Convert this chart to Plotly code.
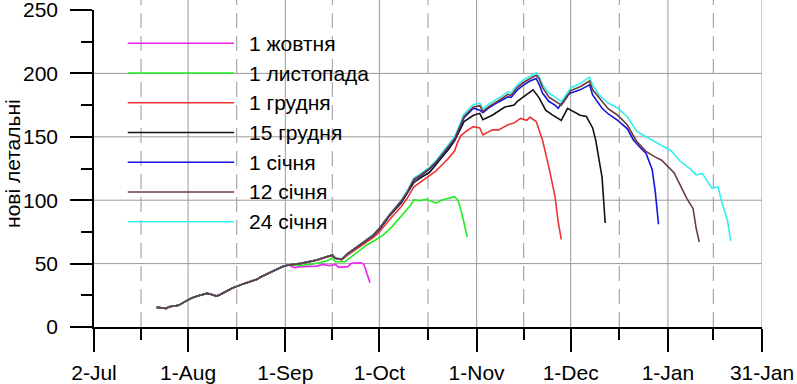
import plotly.graph_objects as go

# ---------------- axis ticks ----------------
tick_dates = ['2020-07-02', '2020-08-01', '2020-09-01', '2020-10-01',
              '2020-11-01', '2020-12-01', '2021-01-01', '2021-01-31']
tick_labels = ['2-Jul', '1-Aug', '1-Sep', '1-Oct', '1-Nov', '1-Dec', '1-Jan', '31-Jan']
minor_dates = ['2020-07-17', '2020-08-16 12:00', '2020-09-16', '2020-10-16 12:00',
               '2020-11-16', '2020-12-16 12:00', '2021-01-15 12:00']
y_ticks = [0, 50, 100, 150, 200, 250]

# ---------------- shared history (identical in every version) ----------------
hist_dates = ['2020-07-22', '2020-07-24', '2020-07-25', '2020-07-26', '2020-07-29', '2020-07-31',
              '2020-08-02', '2020-08-04', '2020-08-05', '2020-08-07', '2020-08-08', '2020-08-10',
              '2020-08-11', '2020-08-13', '2020-08-15', '2020-08-19', '2020-08-21', '2020-08-23',
              '2020-08-24', '2020-08-27', '2020-08-31', '2020-09-02']
hist_values = [15.5, 15.2, 14.7, 16, 17.1, 20,
               22.6, 24.4, 25.2, 26.5, 26, 24.4,
               25.2, 27.8, 30.5, 34.4, 36, 37.6,
               39.2, 43, 47.5, 48.9]

# ---------------- series names / colours ----------------
series_names = ['1 жовтня', '1 листопада', '1 грудня', '15 грудня', '1 січня', '12 січня', '24 січня']
series_colors = ['#EE22EE', '#22EE22', '#EE3333', '#111111', '#1515DD', '#6B3B3B', '#33F0F0']

# 1 жовтня
oct1_dates = ['2020-09-04', '2020-09-06', '2020-09-09', '2020-09-11', '2020-09-13', '2020-09-15',
              '2020-09-17', '2020-09-18', '2020-09-21', '2020-09-22', '2020-09-25', '2020-09-26',
              '2020-09-27', '2020-09-28']
oct1_values = [46.8, 47.6, 47.6, 48, 49.4, 48.3,
               49.4, 47, 47.6, 50.2, 50.7, 49.7,
               42.3, 35]

# 1 листопада
nov1_dates = ['2020-09-06', '2020-09-11', '2020-09-14', '2020-09-16', '2020-09-17', '2020-09-20',
              '2020-09-22', '2020-09-25', '2020-09-27', '2020-09-30', '2020-10-02', '2020-10-05',
              '2020-10-09', '2020-10-11', '2020-10-12', '2020-10-14', '2020-10-16', '2020-10-19',
              '2020-10-21', '2020-10-22', '2020-10-25', '2020-10-26', '2020-10-27', '2020-10-28',
              '2020-10-29']
nov1_values = [48.5, 50.2, 52, 54.2, 51.5, 51.5,
               55.4, 61.3, 64.7, 69, 72, 79,
               91, 96.2, 100.2, 99.7, 100.7, 97.6,
               100.2, 100.7, 102.8, 100.2, 92.3, 82,
               71]

# 1 грудня
dec1_dates = ['2020-09-06', '2020-09-11', '2020-09-14', '2020-09-16', '2020-09-17', '2020-09-19',
              '2020-09-21', '2020-09-24', '2020-09-27', '2020-09-29', '2020-10-01', '2020-10-04',
              '2020-10-08', '2020-10-10', '2020-10-12', '2020-10-14', '2020-10-16', '2020-10-19',
              '2020-10-21', '2020-10-23', '2020-10-25', '2020-10-26', '2020-10-27', '2020-10-29',
              '2020-10-31', '2020-11-02', '2020-11-03', '2020-11-06', '2020-11-08', '2020-11-11',
              '2020-11-13', '2020-11-15', '2020-11-17', '2020-11-18', '2020-11-20', '2020-11-22',
              '2020-11-24', '2020-11-26', '2020-11-27', '2020-11-28']
dec1_values = [50, 52.5, 55, 56, 54, 53,
               57, 62, 67, 70.5, 75, 84,
               95, 102, 110.5, 114, 117.5, 123,
               128, 133, 139, 146, 151, 155,
               158, 157, 151.5, 155.5, 155.5, 159.5,
               161, 164.5, 163, 165.5, 162, 147.5,
               126.5, 103, 83, 69]

# 15 грудня
dec15_dates = ['2020-09-06', '2020-09-11', '2020-09-14', '2020-09-16', '2020-09-17', '2020-09-19',
               '2020-09-21', '2020-09-24', '2020-09-27', '2020-09-29', '2020-10-01', '2020-10-04',
               '2020-10-08', '2020-10-10', '2020-10-12', '2020-10-14', '2020-10-17', '2020-10-19',
               '2020-10-21', '2020-10-23', '2020-10-25', '2020-10-27', '2020-10-28', '2020-10-31',
               '2020-11-02', '2020-11-03', '2020-11-06', '2020-11-10', '2020-11-13', '2020-11-14',
               '2020-11-16', '2020-11-19', '2020-11-21', '2020-11-23', '2020-11-25', '2020-11-28',
               '2020-11-30', '2020-12-02', '2020-12-04', '2020-12-06', '2020-12-07', '2020-12-08',
               '2020-12-09', '2020-12-10', '2020-12-11', '2020-12-12']
dec15_values = [50.2, 52.8, 55.4, 56.8, 54.2, 53.4,
                58, 63.3, 68.6, 72, 77, 87,
                98, 105.5, 114, 117.5, 122, 128,
                134, 140, 147, 157, 162, 167,
                168.5, 163.5, 167, 173.5, 175, 178,
                181.5, 187, 180.5, 171, 167.5, 163,
                172.5, 170, 167, 166, 162, 157,
                147, 133, 118, 82]

# 1 січня
jan1_dates = ['2020-09-06', '2020-09-11', '2020-09-14', '2020-09-16', '2020-09-17', '2020-09-19',
              '2020-09-21', '2020-09-24', '2020-09-27', '2020-09-29', '2020-10-01', '2020-10-04',
              '2020-10-08', '2020-10-10', '2020-10-12', '2020-10-14', '2020-10-17', '2020-10-19',
              '2020-10-21', '2020-10-23', '2020-10-25', '2020-10-27', '2020-10-28', '2020-10-31',
              '2020-11-02', '2020-11-03', '2020-11-05', '2020-11-08', '2020-11-11', '2020-11-12',
              '2020-11-14', '2020-11-16', '2020-11-18', '2020-11-20', '2020-11-21', '2020-11-22',
              '2020-11-24', '2020-11-26', '2020-11-27', '2020-11-30', '2020-12-01', '2020-12-04',
              '2020-12-06', '2020-12-07', '2020-12-08', '2020-12-11', '2020-12-13', '2020-12-16',
              '2020-12-19', '2020-12-21', '2020-12-23', '2020-12-25', '2020-12-27', '2020-12-28',
              '2020-12-29']
jan1_values = [50.2, 52.8, 55.4, 56.8, 54.2, 53.4,
               58, 63.3, 68.6, 72.3, 77.5, 87.5,
               99, 106.5, 116, 119, 124.5, 129.5,
               135.5, 141.5, 148, 159, 165, 172.5,
               171, 169, 173, 177.5, 181.5, 181,
               187, 191, 194, 196, 191, 184.5,
               178, 175, 172.5, 183, 184.5, 187,
               190, 191, 183, 172.5, 168, 163,
               156.5, 147.5, 142, 137, 124, 106,
               81]

# 12 січня
jan12_dates = ['2020-09-06', '2020-09-11', '2020-09-14', '2020-09-16', '2020-09-17', '2020-09-19',
               '2020-09-21', '2020-09-24', '2020-09-27', '2020-09-29', '2020-10-01', '2020-10-04',
               '2020-10-08', '2020-10-10', '2020-10-12', '2020-10-14', '2020-10-17', '2020-10-19',
               '2020-10-21', '2020-10-23', '2020-10-25', '2020-10-27', '2020-10-28', '2020-10-31',
               '2020-11-02', '2020-11-03', '2020-11-05', '2020-11-08', '2020-11-11', '2020-11-12',
               '2020-11-14', '2020-11-16', '2020-11-18', '2020-11-20', '2020-11-21', '2020-11-22',
               '2020-11-24', '2020-11-26', '2020-11-28', '2020-11-30', '2020-12-01', '2020-12-04',
               '2020-12-06', '2020-12-07', '2020-12-08', '2020-12-11', '2020-12-13', '2020-12-16',
               '2020-12-19', '2020-12-22', '2020-12-25', '2020-12-28', '2020-12-30', '2021-01-03',
               '2021-01-05', '2021-01-07', '2021-01-09', '2021-01-10', '2021-01-11']
jan12_values = [50.2, 52.8, 55.4, 56.8, 54.2, 53.4,
                58, 63.3, 68.6, 72.5, 77.8, 87.8,
                99.5, 107, 116.5, 119.5, 125, 130,
                136, 142, 148.5, 160, 166, 173.5,
                174.5, 170, 174, 178.5, 183.5, 182.5,
                189, 193, 195.5, 198.5, 195.5, 189,
                181.5, 178.5, 175, 182, 186.5, 189.5,
                192.5, 194, 187, 177.5, 172, 167,
                159.5, 146.5, 138.5, 134, 131.5, 121.5,
                111, 101.5, 93.5, 78, 67]

# 24 січня
jan24_dates = ['2020-09-06', '2020-09-11', '2020-09-14', '2020-09-16', '2020-09-17', '2020-09-19',
               '2020-09-21', '2020-09-24', '2020-09-27', '2020-09-29', '2020-10-01', '2020-10-04',
               '2020-10-08', '2020-10-10', '2020-10-12', '2020-10-14', '2020-10-17', '2020-10-19',
               '2020-10-21', '2020-10-23', '2020-10-25', '2020-10-27', '2020-10-28', '2020-10-31',
               '2020-11-02', '2020-11-03', '2020-11-05', '2020-11-08', '2020-11-11', '2020-11-12',
               '2020-11-14', '2020-11-16', '2020-11-18', '2020-11-20', '2020-11-21', '2020-11-22',
               '2020-11-24', '2020-11-26', '2020-11-28', '2020-11-30', '2020-12-01', '2020-12-04',
               '2020-12-06', '2020-12-07', '2020-12-08', '2020-12-10', '2020-12-13', '2020-12-16',
               '2020-12-19', '2020-12-22', '2020-12-25', '2020-12-28', '2021-01-02', '2021-01-05',
               '2021-01-08', '2021-01-10', '2021-01-12', '2021-01-15', '2021-01-17', '2021-01-18',
               '2021-01-20', '2021-01-21']
jan24_values = [50.2, 52.8, 55.4, 56.8, 54.2, 53.4,
                58, 63.3, 68.6, 72.8, 78, 88,
                100, 108, 117.5, 120.5, 126, 131,
                137.5, 143.5, 150, 162, 168, 175.5,
                176.5, 172, 176, 180.5, 185.5, 184.5,
                191, 195, 197.5, 200.5, 197.5, 191,
                184.5, 181.5, 177.5, 184.5, 188.5, 192,
                195, 197, 191, 183, 176.5, 172.5,
                166, 154.5, 150, 146, 139, 130.5,
                125, 120, 121, 109.5, 110.5, 100,
                84, 68]

series_dates = [oct1_dates, nov1_dates, dec1_dates, dec15_dates, jan1_dates, jan12_dates, jan24_dates]
series_values = [oct1_values, nov1_values, dec1_values, dec15_values, jan1_values, jan12_values, jan24_values]

FONT = 'Liberation Sans, Arial, sans-serif'
GRID = '#9a9a9a'

fig = go.Figure()

# draw order: 12 січня last (it sits on top in the shared part)
draw_order = [0, 1, 2, 3, 4, 6, 5]
for i in draw_order:
    fig.add_trace(go.Scatter(
        x=hist_dates + series_dates[i],
        y=hist_values + series_values[i],
        mode='lines', name=series_names[i],
        line=dict(color=series_colors[i], width=1.6),
        showlegend=False,
    ))

shapes = []
# horizontal grid lines (not at 0 and not at the top value)
for v in y_ticks[1:-1]:
    shapes.append(dict(type='line', xref='paper', yref='y', x0=0, x1=1, y0=v, y1=v,
                       line=dict(color=GRID, width=1), layer='below'))
# vertical solid grid lines at the major dates
for d in tick_dates[1:]:
    shapes.append(dict(type='line', xref='x', yref='paper', x0=d, x1=d, y0=0, y1=1.032,
                       line=dict(color=GRID, width=1), layer='below'))
# vertical dashed grid lines at the minor dates
for d in minor_dates:
    shapes.append(dict(type='line', xref='x', yref='paper', x0=d, x1=d, y0=0, y1=1.032,
                       line=dict(color='#a8a8a8', width=1.2, dash='15px,8px'), layer='below'))

# custom legend (long sample lines)
annotations = []
leg_x0, leg_x1, leg_tx = 0.0505, 0.2097, 0.2287
leg_y0, leg_step = 0.895, 0.0938
for k, (nm, col) in enumerate(zip(series_names, series_colors)):
    yy = leg_y0 - k * leg_step
    shapes.append(dict(type='line', xref='paper', yref='paper', x0=leg_x0, x1=leg_x1,
                       y0=yy, y1=yy, line=dict(color=col, width=1.6)))
    annotations.append(dict(xref='paper', yref='paper', x=leg_tx, y=yy, text=nm,
                            showarrow=False, xanchor='left', yanchor='middle',
                            font=dict(family=FONT, size=21, color='black')))

annotations.append(dict(xref='paper', yref='paper', x=-0.123, y=0.517, text='нові летальні',
                        textangle=-90, showarrow=False, xanchor='center', yanchor='middle',
                        font=dict(family=FONT, size=21, color='black')))

fig.update_layout(
    width=797, height=384,
    margin=dict(l=94, r=35, t=10, b=57, autoexpand=False),
    paper_bgcolor='white', plot_bgcolor='white',
    font=dict(family=FONT, size=21, color='black'),
    shapes=shapes, annotations=annotations,
    showlegend=False,
)
fig.update_xaxes(
    type='date', range=[tick_dates[0], tick_dates[-1]], automargin=False,
    tickmode='array', tickvals=tick_dates, ticktext=tick_labels,
    ticks='outside', ticklen=23, tickwidth=1.5, tickcolor='black',
    showline=True, linecolor='black', linewidth=1.5,
    showgrid=False, zeroline=False, ticklabelstandoff=3,
    ticklabeloverflow='allow',
    tickfont=dict(family=FONT, size=21, color='black'),
    minor=dict(tickmode='array', tickvals=minor_dates, ticks='outside', ticklen=11,
               tickwidth=1.5, tickcolor='black', showgrid=False),
)
fig.update_yaxes(
    range=[0, 250], tickmode='array', tickvals=y_ticks, automargin=False,
    ticks='outside', ticklen=22, tickwidth=1.5, tickcolor='black',
    showline=True, linecolor='black', linewidth=1.5,
    showgrid=False, zeroline=False, ticklabelstandoff=8,
    ticklabeloverflow='allow',
    tickfont=dict(family=FONT, size=21, color='black'),
    minor=dict(dtick=25, ticks='outside', ticklen=11, tickwidth=1.5, tickcolor='black', showgrid=False),
)

fig.write_html('out.html', config={'displayModeBar': False},
               post_script="document.body.style.margin='0';document.body.style.overflow='hidden';")
